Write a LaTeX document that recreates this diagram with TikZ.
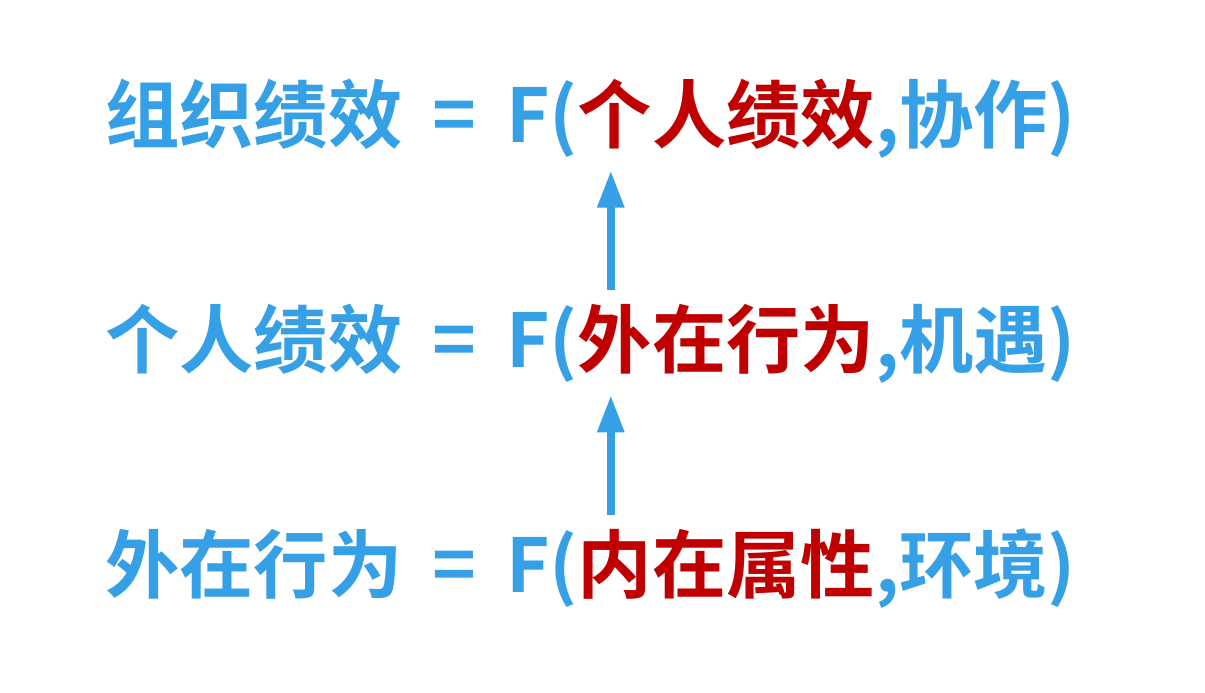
\documentclass[tikz,border=0pt]{standalone}
\usepackage{fontspec}
\usepackage{xcolor}
\usetikzlibrary{arrows.meta,positioning,calc}
\newfontfamily\cjk{Noto Sans CJK SC}[BoldFont={Noto Sans CJK SC Bold}]
\definecolor{fblue}{HTML}{35A0E5}
\definecolor{fred}{HTML}{C00000}
\newcommand{\eqgap}{\hspace{0.6cm}=\hspace{0.6cm}}

\begin{document}
\begin{tikzpicture}[
    txt/.style={inner sep=0pt, outer sep=0pt, font=\cjk\bfseries\fontsize{42.3}{50}\selectfont, text=fblue},
    key/.style={txt, text=fred},
    uparrow/.style={draw=fblue, line width=1.7mm, -{Triangle[width=5mm,length=7.5mm]}}
]
\useasboundingbox (0,0) rectangle (24.1,13.86);

% top line
\node [txt, anchor=base west] (lhs1) at (2.1,11.0) {组织绩效\eqgap F(};
\node [key, anchor=base west] (key1) at (lhs1.base east) {个人绩效};
\node [txt, anchor=base west] (rhs1) at (key1.base east) {,协作)};

% middle line
\node [txt, anchor=base west] (lhs2) at (2.1,6.5) {个人绩效\eqgap F(};
\node [key, anchor=base west] (key2) at (lhs2.base east) {外在行为};
\node [txt, anchor=base west] (rhs2) at (key2.base east) {,机遇)};

% bottom line
\node [txt, anchor=base west] (lhs3) at (2.1,2.0) {外在行为\eqgap F(};
\node [key, anchor=base west] (key3) at (lhs3.base east) {内在属性};
\node [txt, anchor=base west] (rhs3) at (key3.base east) {,环境)};

\draw [uparrow, shorten <=3mm, shorten >=4mm] ([xshift=6.6mm]key2.north west) -- ([xshift=6.6mm]key1.south west);
\draw [uparrow, shorten <=3mm, shorten >=4mm] ([xshift=6.6mm]key3.north west) -- ([xshift=6.6mm]key2.south west);

\end{tikzpicture}
\end{document}
